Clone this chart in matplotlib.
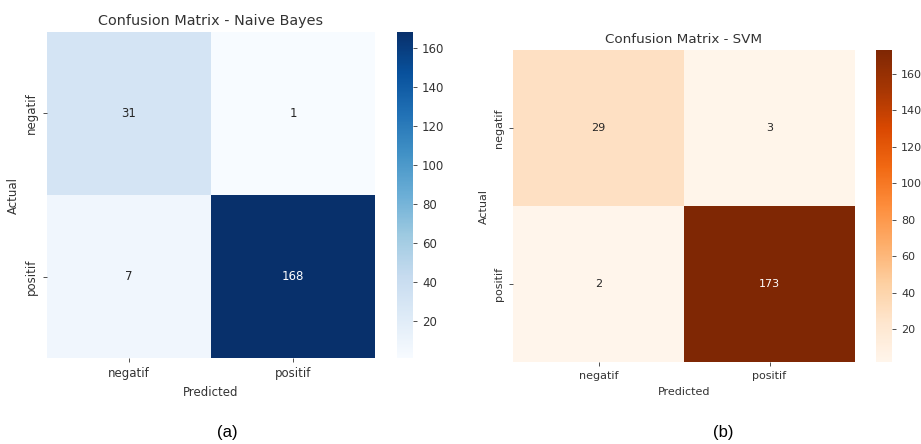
import matplotlib
matplotlib.use("Agg")
import matplotlib.pyplot as plt
import numpy as np
import seaborn as sns

labels = ["negatif", "positif"]

cm_nb = np.array([[31, 1],
                  [7, 168]])
cm_svm = np.array([[29, 3],
                   [2, 173]])

W, H = 921, 444


def px_box(x0, y0, x1, y1):
    # pixel box (top-left origin) -> figure fraction rect
    return [x0 / W, 1 - y1 / H, (x1 - x0) / W, (y1 - y0) / H]


def draw_cm(fig, cm, cmap, title, ax_box, cb_box, fs, title_fs):
    ax = fig.add_axes(px_box(*ax_box))
    cax = fig.add_axes(px_box(*cb_box))
    sns.heatmap(cm, annot=True, fmt="d", cmap=cmap, ax=ax, cbar_ax=cax,
                xticklabels=labels, yticklabels=labels,
                annot_kws={"fontsize": fs})
    ax.set_title(title, fontsize=title_fs, color="#333333", pad=5)
    ax.set_xlabel("Predicted", fontsize=fs, color="#333333")
    ax.set_ylabel("Actual", fontsize=fs, color="#333333")
    ax.tick_params(labelsize=fs, colors="#333333", length=3, width=0.6)
    plt.setp(ax.get_yticklabels(), rotation=90, va="center")
    cax.tick_params(labelsize=fs, colors="#333333", length=3, width=0.6)
    return ax


fig = plt.figure(figsize=(W / 100, H / 100), dpi=100)

draw_cm(fig, cm_nb, "Blues", "Confusion Matrix - Naive Bayes",
        (47, 32, 375, 358), (397, 32, 413, 358), 8.5, 10.4)
draw_cm(fig, cm_svm, "Oranges", "Confusion Matrix - SVM",
        (513, 50, 855, 362), (876, 50, 892, 362), 8, 9.7)

fig.text(227 / W, 1 - 432 / H, "(a)", ha="center", va="center",
         fontsize=12, family="Liberation Sans")
fig.text(723 / W, 1 - 432 / H, "(b)", ha="center", va="center",
         fontsize=12, family="Liberation Sans")

fig.savefig("out.png", dpi=100)
